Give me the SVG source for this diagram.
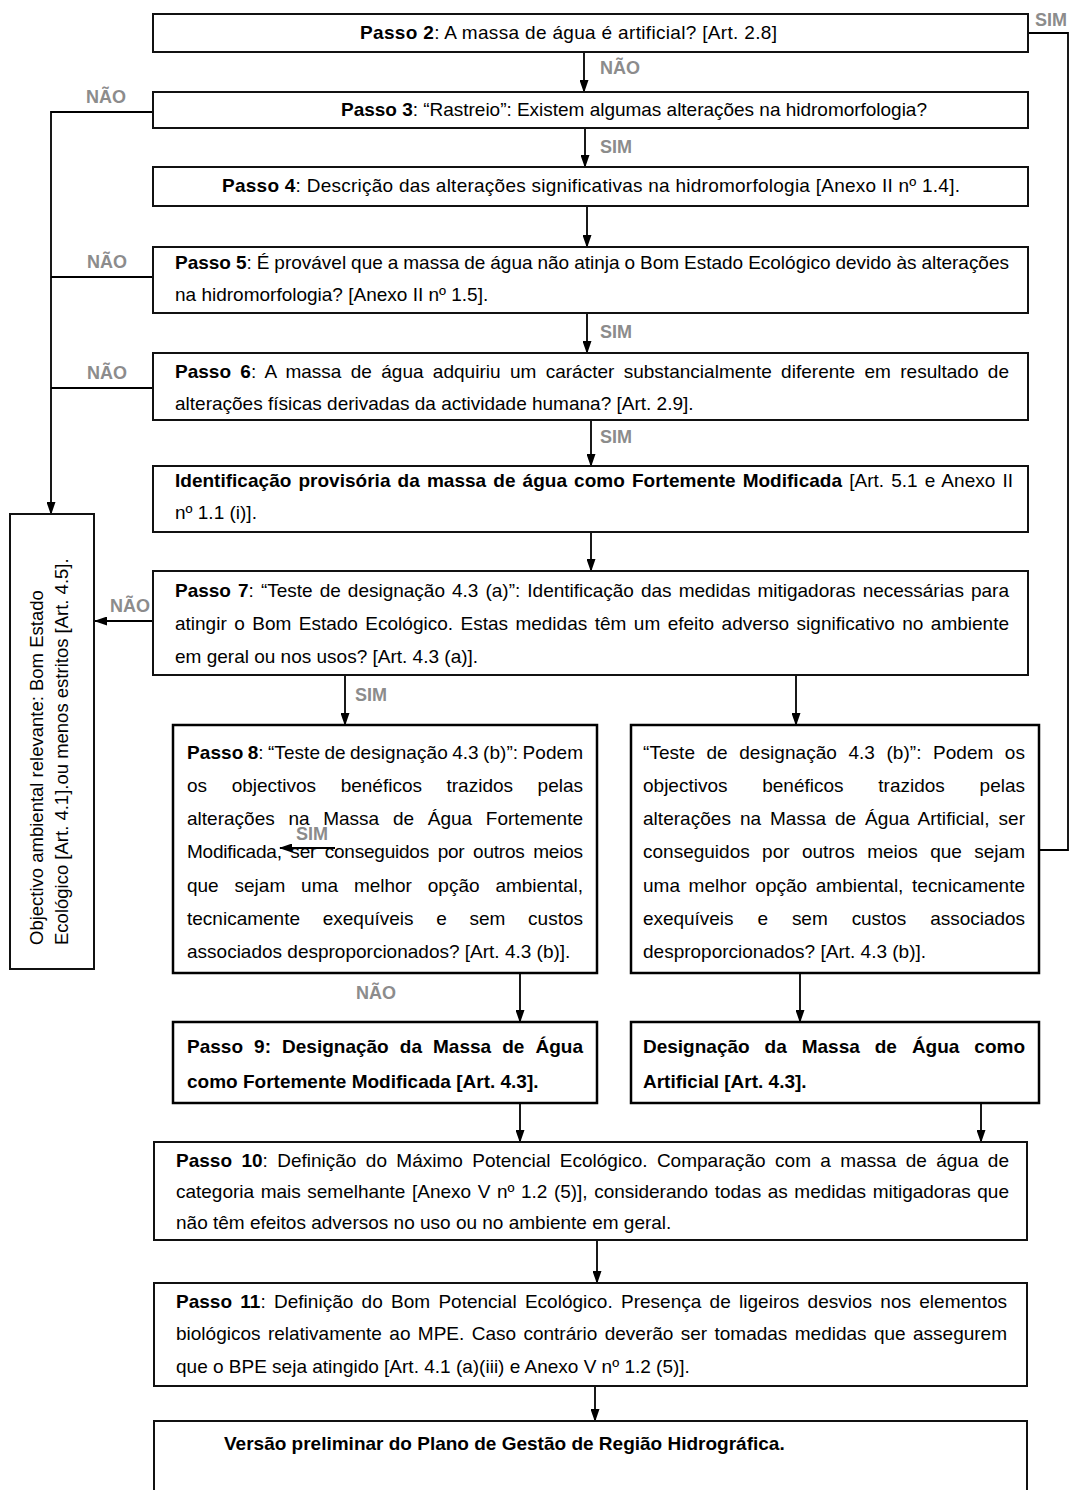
<svg xmlns="http://www.w3.org/2000/svg" width="1070" height="1490" viewBox="0 0 1070 1490">
<style>
.t{font-family:"Liberation Sans",Arial,sans-serif;font-size:19px;fill:#000}
.b{font-weight:bold}
.lbl{font-family:"Liberation Sans",Arial,sans-serif;font-size:18px;font-weight:bold;fill:#8c8c8c}
.box{fill:#fff;stroke:#111;stroke-width:2}
.box2{fill:#fff;stroke:#000;stroke-width:2.5}
.c{fill:none;stroke:#000;stroke-width:1.8}
.rt{font-family:"Liberation Sans",Arial,sans-serif;font-size:18.5px;fill:#000}
</style>
<defs>
<marker id="ah" markerWidth="13" markerHeight="9" refX="12" refY="4.5" orient="auto" markerUnits="userSpaceOnUse"><path d="M0,0 L13,4.5 L0,9 z" fill="#000"/></marker>
</defs>
<rect width="1070" height="1490" fill="#fff"/>

<g id="connectors">
<path class="c" d="M584,52 V92" marker-end="url(#ah)"/>
<path class="c" d="M585,128 V167" marker-end="url(#ah)"/>
<path class="c" d="M587,206 V247" marker-end="url(#ah)"/>
<path class="c" d="M587,313 V353" marker-end="url(#ah)"/>
<path class="c" d="M591,420 V466" marker-end="url(#ah)"/>
<path class="c" d="M591,532 V571" marker-end="url(#ah)"/>
<path class="c" d="M345,675 V725" marker-end="url(#ah)"/>
<path class="c" d="M796,675 V725" marker-end="url(#ah)"/>
<path class="c" d="M520,973 V1022" marker-end="url(#ah)"/>
<path class="c" d="M800,973 V1022" marker-end="url(#ah)"/>
<path class="c" d="M520,1103 V1142" marker-end="url(#ah)"/>
<path class="c" d="M981,1103 V1142" marker-end="url(#ah)"/>
<path class="c" d="M597,1240 V1283" marker-end="url(#ah)"/>
<path class="c" d="M595,1386 V1421" marker-end="url(#ah)"/>
<path class="c" d="M1028,33 H1068 V850 H1025" marker-end="url(#ah)"/>
<path class="c" d="M153,112 H51 V514" marker-end="url(#ah)"/>
<path class="c" d="M153,277 H51"/>
<path class="c" d="M153,388 H51"/>
<path class="c" d="M153,621 H95" marker-end="url(#ah)"/>
<text class="lbl" x="1035" y="26">SIM</text>
<text class="lbl" x="600" y="74">NÃO</text>
<text class="lbl" x="600" y="153">SIM</text>
<text class="lbl" x="600" y="338">SIM</text>
<text class="lbl" x="600" y="443">SIM</text>
<text class="lbl" x="86" y="103">NÃO</text>
<text class="lbl" x="87" y="268">NÃO</text>
<text class="lbl" x="87" y="379">NÃO</text>
<text class="lbl" x="110" y="612">NÃO</text>
<text class="lbl" x="355" y="701">SIM</text>
<text class="lbl" x="356" y="999">NÃO</text>
</g>

<g id="objectivo">
<rect class="box" x="10" y="514" width="84" height="455" stroke-width="1.5"/>
<text class="rt" transform="translate(43,945) rotate(-90)">Objectivo ambiental relevante: Bom Estado</text>
<text class="rt" transform="translate(68,945) rotate(-90)">Ecológico [Art. 4.1].ou menos estritos [Art. 4.5].</text>
</g>

<g id="passo2">
<rect class="box" x="153" y="14" width="875" height="38"/>
<text class="t" x="360" y="39" textLength="417" lengthAdjust="spacing"><tspan class="b">Passo 2</tspan>: A massa de água é artificial? [Art. 2.8]</text>
</g>

<g id="passo3">
<rect class="box" x="153" y="92" width="875" height="36"/>
<text class="t" x="341" y="116" textLength="586" lengthAdjust="spacing"><tspan class="b">Passo 3</tspan>: “Rastreio”: Existem algumas alterações na hidromorfologia?</text>
</g>

<g id="passo4">
<rect class="box" x="153" y="167" width="875" height="39"/>
<text class="t" x="222" y="192" textLength="738" lengthAdjust="spacing"><tspan class="b">Passo 4</tspan>: Descrição das alterações significativas na hidromorfologia [Anexo II nº 1.4].</text>
</g>

<g id="passo5">
<rect class="box" x="153" y="247" width="875" height="66"/>
<text class="t" x="175" y="269" word-spacing="-0.3" textLength="834" lengthAdjust="spacing"><tspan class="b">Passo 5</tspan>: É provável que a massa de água não atinja o Bom Estado Ecológico devido às alterações</text>
<text class="t" x="175" y="301">na hidromorfologia? [Anexo II nº 1.5].</text>
</g>

<g id="passo6">
<rect class="box" x="153" y="353" width="875" height="67"/>
<text class="t" x="175" y="378" word-spacing="4" textLength="834" lengthAdjust="spacing"><tspan class="b">Passo 6</tspan>: A massa de água adquiriu um carácter substancialmente diferente em resultado de</text>
<text class="t" x="175" y="410">alterações físicas derivadas da actividade humana? [Art. 2.9].</text>
</g>

<g id="identificacao">
<rect class="box" x="153" y="466" width="875" height="66"/>
<text class="t" x="175" y="487" word-spacing="1.8" textLength="838" lengthAdjust="spacing"><tspan class="b">Identificação provisória da massa de água como Fortemente Modificada</tspan> [Art. 5.1 e Anexo II</text>
<text class="t" x="175" y="519">nº 1.1 (i)].</text>
</g>

<g id="passo7">
<rect class="box" x="153" y="571" width="875" height="104"/>
<text class="t" x="175" y="597" word-spacing="1.8" textLength="834" lengthAdjust="spacing"><tspan class="b">Passo 7</tspan>: “Teste de designação 4.3 (a)”: Identificação das medidas mitigadoras necessárias para</text>
<text class="t" x="175" y="630" word-spacing="2.2" textLength="834" lengthAdjust="spacing">atingir o Bom Estado Ecológico. Estas medidas têm um efeito adverso significativo no ambiente</text>
<text class="t" x="175" y="663">em geral ou nos usos? [Art. 4.3 (a)].</text>
</g>

<g id="passo8">
<rect class="box2" x="173" y="725" width="424" height="248"/>
<text class="t" x="187" y="759" word-spacing="-1" textLength="396" lengthAdjust="spacing"><tspan class="b">Passo 8</tspan>: “Teste de designação 4.3 (b)”: Podem</text>
<text class="t" x="187" y="792" word-spacing="19.3" textLength="396" lengthAdjust="spacing">os objectivos benéficos trazidos pelas</text>
<text class="t" x="187" y="825" word-spacing="8.4" textLength="396" lengthAdjust="spacing">alterações na Massa de Água Fortemente</text>
<text class="t" x="187" y="858" word-spacing="3.6" textLength="396" lengthAdjust="spacing">Modificada, ser conseguidos por outros meios</text>
<text class="t" x="187" y="892" word-spacing="10.6" textLength="396" lengthAdjust="spacing">que sejam uma melhor opção ambiental,</text>
<text class="t" x="187" y="925" word-spacing="17.4" textLength="396" lengthAdjust="spacing">tecnicamente exequíveis e sem custos</text>
<text class="t" x="187" y="958">associados desproporcionados? [Art. 4.3 (b)].</text>
<text class="lbl" x="296" y="840">SIM</text>
<path class="c" d="M335,848 H280" marker-end="url(#ah)"/>
</g>

<g id="teste-artificial">
<rect class="box2" x="631" y="725" width="408" height="248"/>
<text class="t" x="643" y="759" word-spacing="6.1" textLength="382" lengthAdjust="spacing">“Teste de designação 4.3 (b)”: Podem os</text>
<text class="t" x="643" y="792" word-spacing="29.5" textLength="382" lengthAdjust="spacing">objectivos benéficos trazidos pelas</text>
<text class="t" x="643" y="825" word-spacing="3.6" textLength="382" lengthAdjust="spacing">alterações na Massa de Água Artificial, ser</text>
<text class="t" x="643" y="858" word-spacing="7.1" textLength="382" lengthAdjust="spacing">conseguidos por outros meios que sejam</text>
<text class="t" x="643" y="892" word-spacing="3.4" textLength="382" lengthAdjust="spacing">uma melhor opção ambiental, tecnicamente</text>
<text class="t" x="643" y="925" word-spacing="18.7" textLength="382" lengthAdjust="spacing">exequíveis e sem custos associados</text>
<text class="t" x="643" y="958">desproporcionados? [Art. 4.3 (b)].</text>
</g>

<g id="passo9">
<rect class="box2" x="173" y="1022" width="424" height="81"/>
<text class="t b" x="187" y="1053" word-spacing="5.8" textLength="396" lengthAdjust="spacing">Passo 9: Designação da Massa de Água</text>
<text class="t b" x="187" y="1088">como Fortemente Modificada [Art. 4.3].</text>
</g>

<g id="designacao-artificial">
<rect class="box2" x="631" y="1022" width="408" height="81"/>
<text class="t b" x="643" y="1053" word-spacing="9.7" textLength="382" lengthAdjust="spacing">Designação da Massa de Água como</text>
<text class="t b" x="643" y="1088">Artificial [Art. 4.3].</text>
</g>

<g id="passo10">
<rect class="box" x="154" y="1142" width="873" height="98"/>
<text class="t" x="176" y="1167" word-spacing="4.1" textLength="833" lengthAdjust="spacing"><tspan class="b">Passo 10</tspan>: Definição do Máximo Potencial Ecológico. Comparação com a massa de água de</text>
<text class="t" x="176" y="1198" word-spacing="1.3" textLength="833" lengthAdjust="spacing">categoria mais semelhante [Anexo V nº 1.2 (5)], considerando todas as medidas mitigadoras que</text>
<text class="t" x="176" y="1229">não têm efeitos adversos no uso ou no ambiente em geral.</text>
</g>

<g id="passo11">
<rect class="box" x="154" y="1283" width="873" height="103"/>
<text class="t" x="176" y="1308" word-spacing="3" textLength="831" lengthAdjust="spacing"><tspan class="b">Passo 11</tspan>: Definição do Bom Potencial Ecológico. Presença de ligeiros desvios nos elementos</text>
<text class="t" x="176" y="1340" word-spacing="2.1" textLength="831" lengthAdjust="spacing">biológicos relativamente ao MPE. Caso contrário deverão ser tomadas medidas que assegurem</text>
<text class="t" x="176" y="1373">que o BPE seja atingido [Art. 4.1 (a)(iii) e Anexo V nº 1.2 (5)].</text>
</g>

<g id="versao">
<rect class="box" x="154" y="1421" width="873" height="80"/>
<text class="t b" x="224" y="1450">Versão preliminar do Plano de Gestão de Região Hidrográfica.</text>
</g>
</svg>
